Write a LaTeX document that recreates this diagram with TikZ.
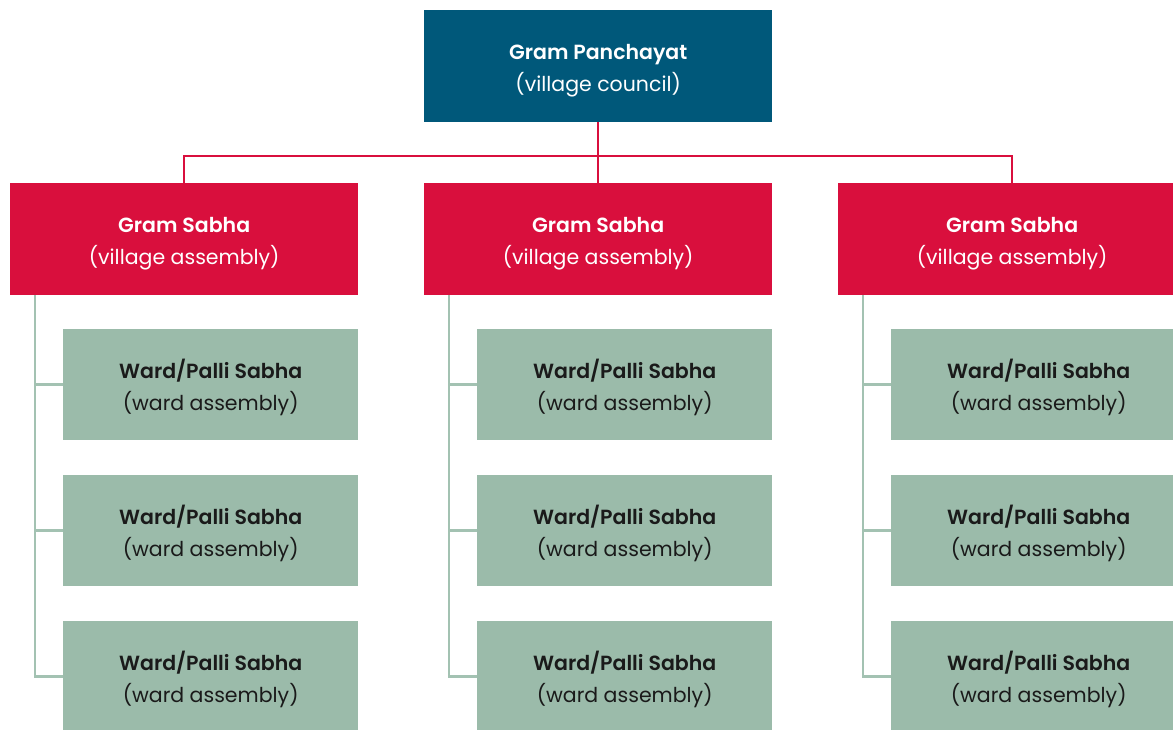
\documentclass[tikz,border=0pt]{standalone}
\usepackage{fontspec}
\setmainfont{Poppins}[BoldFont={Poppins SemiBold}]
\usepackage{tikz}
\usetikzlibrary{positioning}

\definecolor{councilblue}{HTML}{00587A}
\definecolor{sabhared}{HTML}{D90F3D}
\definecolor{wardgreen}{HTML}{9BBBAA}
\definecolor{wardline}{HTML}{A3C2B2}
\definecolor{wardtext}{HTML}{1A1A1A}

% title line and subtitle line, set a little low in the box
\newcommand{\boxlines}[2]{\rule{0pt}{25pt}\textbf{#1}\\#2}

\tikzset{
  box/.style={anchor=north west, inner sep=0pt, align=center,
    font=\fontsize{20.5}{32}\selectfont},
  council/.style={box, fill=councilblue, text=white,
    minimum width=348, minimum height=112},
  sabha/.style={box, fill=sabhared, text=white,
    minimum width=348, minimum height=112},
  ward/.style={box, fill=wardgreen, text=wardtext,
    minimum width=295, minimum height=111},
  redline/.style={draw=sabhared, line width=2},
  greenline/.style={draw=wardline, line width=2.5},
}

\begin{document}
\begin{tikzpicture}[x=1pt,y=-1pt]
      
      \useasboundingbox (0,0) rectangle (1173,729);
      \clip (0,0) rectangle (1173,729);
      
      % village council
      \node[council] (gp) at (424,10) {\boxlines{Gram Panchayat}{(village council)}};
      
      % three village assemblies, each with three ward assemblies
      \foreach \i/\x in {1/10,2/424,3/838}  {
      	\node[sabha] (gs\i) at (\x,183) {\boxlines{Gram Sabha}{(village assembly)}};
      	\foreach \j/\y in {1/329,2/475,3/621}  {
      		\node[ward] (w\i\j) at (\x+53,\y) {\boxlines{Ward/Palli Sabha}{(ward assembly)}};
      		\draw[greenline] ([xshift=25]gs\i.south west) |- (w\i\j.west);
      	}
      }
      
      \coordinate (bus) at ([yshift=-34]gp.south);
      \foreach \i in {1,2,3}  {
      	\draw[redline] (gp.south) -- (bus) -| (gs\i.north);
      }
      
      \end{tikzpicture}
\end{document}
